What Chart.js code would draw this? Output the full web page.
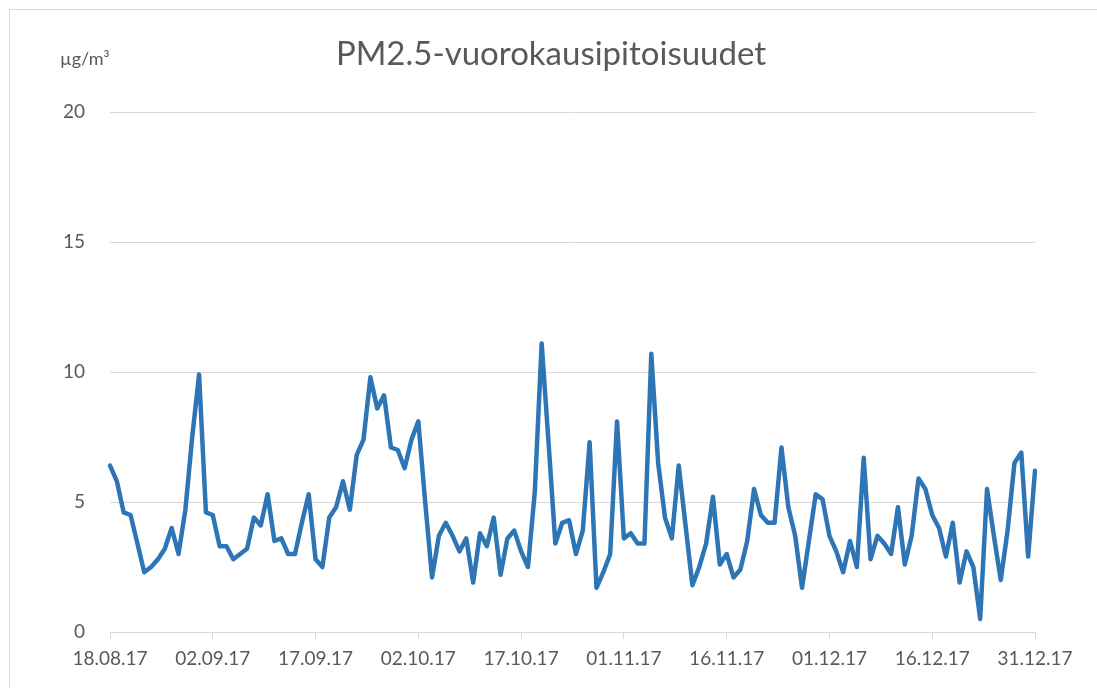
<!DOCTYPE html>
<html>
<head>
<meta charset="utf-8">
<script src="https://cdn.jsdelivr.net/npm/chart.js@4.4.1/dist/chart.umd.min.js"></script>
<style>
  html, body { margin: 0; padding: 0; background: #fff; overflow: hidden; }
  #wrap { position: relative; width: 1097px; height: 688px; }
  #frame { position: absolute; left: 9px; top: 9px; width: 1200px; height: 800px; border: 1px solid #d9d9d9; }
  canvas { position: absolute; left: 0; top: 0; }
</style>
</head>
<body>
<div id="wrap">
  <div id="frame"></div>
  <canvas id="pmChart" width="1097" height="688"></canvas>
</div>
<script>
// otsikot
var chartTitle = 'PM2.5-vuorokausipitoisuudet';
var unitLabel = 'µg/m³';

// x-akselin merkinnät (15 päivän välein)
var xTickLabels = ['18.08.17', '02.09.17', '17.09.17', '02.10.17', '17.10.17',
                   '01.11.17', '16.11.17', '01.12.17', '16.12.17', '31.12.17'];
var yTicks = [0, 5, 10, 15, 20];

// vuorokausiarvot 18.08.17 - 31.12.17
var pm25 = [
  6.4, 5.8, 4.6, 4.5, 3.4, 2.3, 2.5, 2.8, 3.2, 4.0,
  3.0, 4.7, 7.5, 9.9, 4.6, 4.5, 3.3, 3.3, 2.8, 3.0,
  3.2, 4.4, 4.1, 5.3, 3.5, 3.6, 3.0, 3.0, 4.2, 5.3,
  2.8, 2.5, 4.4, 4.8, 5.8, 4.7, 6.8, 7.4, 9.8, 8.6,
  9.1, 7.1, 7.0, 6.3, 7.4, 8.1, 5.0, 2.1, 3.7, 4.2,
  3.7, 3.1, 3.6, 1.9, 3.8, 3.3, 4.4, 2.2, 3.6, 3.9,
  3.1, 2.5, 5.4, 11.1, 7.3, 3.4, 4.2, 4.3, 3.0, 3.9,
  7.3, 1.7, 2.3, 3.0, 8.1, 3.6, 3.8, 3.4, 3.4, 10.7,
  6.5, 4.4, 3.6, 6.4, 4.1, 1.8, 2.5, 3.4, 5.2, 2.6,
  3.0, 2.1, 2.4, 3.5, 5.5, 4.5, 4.2, 4.2, 7.1, 4.8,
  3.7, 1.7, 3.5, 5.3, 5.1, 3.7, 3.1, 2.3, 3.5, 2.5,
  6.7, 2.8, 3.7, 3.4, 3.0, 4.8, 2.6, 3.7, 5.9, 5.5,
  4.5, 4.0, 2.9, 4.2, 1.9, 3.1, 2.5, 0.5, 5.5, 3.7,
  2.0, 3.9, 6.5, 6.9, 2.9, 6.2
];

// päivämäärät kategorioiksi
var dates = [];
var d = new Date(2017, 7, 18);
for (var i = 0; i < pm25.length; i++) {
    var dd = ('0' + d.getDate()).slice(-2);
    var mm = ('0' + (d.getMonth() + 1)).slice(-2);
    dates.push(dd + '.' + mm + '.' + String(d.getFullYear()).slice(-2));
    d.setDate(d.getDate() + 1);
}

var textColor = '#595959';
var gridColor = '#d9d9d9';

// otsikko ja yksikkö
var titlePlugin = {
    id: 'pmTexts',
    afterDraw: function(chart) {
        var c = chart.ctx;
        c.save();
        c.fillStyle = textColor;
        c.textBaseline = 'middle';
        c.textAlign = 'center';
        c.font = '33px Lato';
        c.fillText(chartTitle, 551, 54);
        c.textAlign = 'left';
        c.font = '18px Lato';
        c.fillText(unitLabel, 60, 59);
        c.restore();
    }
};

var ctx = document.getElementById('pmChart').getContext('2d');
var pmChart = new Chart(ctx, {
    type: 'line',
    data: {
        labels: dates,
        datasets: [{
            label: 'PM2.5',
            data: pm25,
            borderColor: '#2e75b6',
            borderWidth: 4.5,
            borderCapStyle: 'round',
            borderJoinStyle: 'round',
            pointRadius: 0,
            tension: 0,
            fill: false
        }]
    },
    options: {
        responsive: false,
        animation: false,
        layout: { padding: { top: 112, right: 62, left: 0, bottom: 0 } },
        plugins: {
            legend: { display: false },
            tooltip: { enabled: false },
            title: { display: false }
        },
        scales: {
            x: {
                type: 'category',
                offset: false,
                afterBuildTicks: function(axis) {
                    axis.ticks = axis.ticks.filter(function(t) { return t.value % 15 === 0; });
                },
                afterFit: function(axis) { axis.height = 56; },
                grid: {
                    drawOnChartArea: false,
                    drawTicks: true,
                    tickLength: 7,
                    color: gridColor
                },
                border: { color: gridColor, width: 1 },
                ticks: {
                    autoSkip: false,
                    maxRotation: 0,
                    padding: 8,
                    color: textColor,
                    font: { family: 'Lato', size: 19 },
                    callback: function(value, index) { return xTickLabels[index]; }
                }
            },
            y: {
                min: 0,
                max: 20,
                afterBuildTicks: function(axis) {
                    axis.ticks = yTicks.map(function(v) { return { value: v }; });
                },
                afterFit: function(axis) { axis.width = 110; },
                grid: { color: gridColor, drawTicks: false },
                border: { display: false },
                ticks: {
                    padding: 25,
                    color: textColor,
                    font: { family: 'Lato', size: 19 }
                }
            }
        }
    },
    plugins: [titlePlugin]
});
</script>
</body>
</html>
